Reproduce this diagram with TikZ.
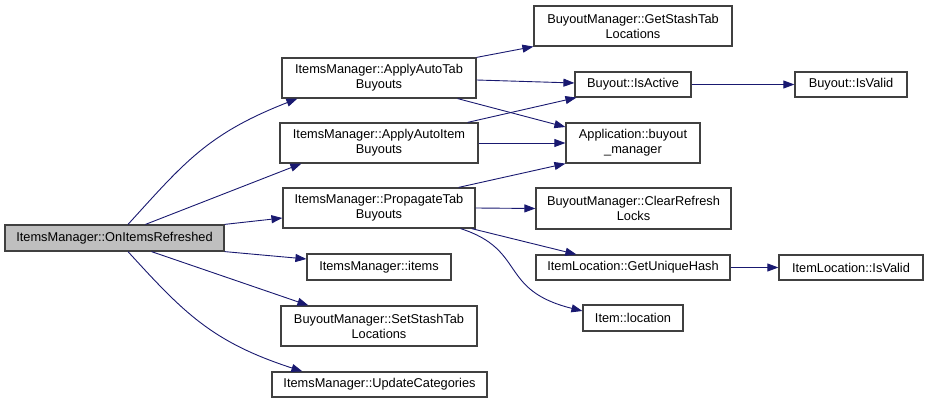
\documentclass[tikz,border=0pt]{standalone}
\usepackage{fontspec}
\setmainfont{Liberation Sans}
\usetikzlibrary{arrows.meta}
\definecolor{edgeblue}{RGB}{25,25,112}
\definecolor{boxgray}{RGB}{64,64,64}
\definecolor{rootgray}{RGB}{191,191,191}
\begin{document}
\begin{tikzpicture}[x=1pt,y=-1pt,
  box/.style={draw=boxgray,line width=1.2pt,fill=white,inner sep=0pt,align=center,font=\fontsize{12.8}{15}\selectfont},
  call/.style={edgeblue,line width=0.9pt,-{Triangle[length=11pt,width=8pt]}}]
  \useasboundingbox (0,0) rectangle (928,403);
  \node[box,fill=rootgray,minimum width=219pt,minimum height=26pt] (root) at (114.5,238) {ItemsManager::OnItemsRefreshed};
  \node[box,minimum width=194pt,minimum height=40pt] (autotab) at (379,78) {ItemsManager::ApplyAutoTab\\Buyouts};
  \node[box,minimum width=198pt,minimum height=40pt] (autoitem) at (379,143) {ItemsManager::ApplyAutoItem\\Buyouts};
  \node[box,minimum width=192pt,minimum height=40pt] (propagate) at (379,208) {ItemsManager::PropagateTab\\Buyouts};
  \node[box,minimum width=144pt,minimum height=26pt] (items) at (379,267) {ItemsManager::items};
  \node[box,minimum width=196pt,minimum height=40pt] (setstash) at (379,326) {BuyoutManager::SetStashTab\\Locations};
  \node[box,minimum width=215pt,minimum height=25pt] (update) at (379.5,384.5) {ItemsManager::UpdateCategories};
  \node[box,minimum width=198pt,minimum height=40pt] (getstash) at (633,26) {BuyoutManager::GetStashTab\\Locations};
  \node[box,minimum width=116pt,minimum height=25pt] (isactive) at (633,84.5) {Buyout::IsActive};
  \node[box,minimum width=112pt,minimum height=25pt] (isvalid) at (851,84.5) {Buyout::IsValid};
  \node[box,minimum width=134pt,minimum height=40pt] (bmgr) at (633,143) {Application::buyout\\\_manager};
  \node[box,minimum width=195pt,minimum height=41pt] (clear) at (633.5,208.5) {BuyoutManager::ClearRefresh\\Locks};
  \node[box,minimum width=194pt,minimum height=25pt] (hash) at (633,267.5) {ItemLocation::GetUniqueHash};
  \node[box,minimum width=144pt,minimum height=25pt] (ilvalid) at (851,267.5) {ItemLocation::IsValid};
  \node[box,minimum width=100pt,minimum height=26pt] (location) at (633,318) {Item::location};
  \draw[call] ([xshift=13.5pt]root.north) .. controls (184,163) and (207,134) .. ([xshift=16pt]autotab.south west);
  \draw[call] ([xshift=31pt]root.north) -- ([xshift=22pt]autoitem.south west);
  \draw[call] (root.north east) -- ([yshift=-10pt]propagate.west);
  \draw[call] (root.south east) -- ([yshift=8pt]items.west);
  \draw[call] ([xshift=37pt]root.south) -- ([xshift=28pt]setstash.north west);
  \draw[call] ([xshift=13.5pt]root.south) .. controls (184,313) and (212,342) .. ([xshift=31pt]update.north west);
  \draw[call] (autotab.north east) -- (getstash.south west);
  \draw[call] ([yshift=-2pt]autotab.east) -- ([yshift=1.5pt]isactive.west);
  \draw[call] ([xshift=-19pt]autotab.south east) -- ([yshift=16pt]bmgr.west);
  \draw[call] ([xshift=-11pt]autoitem.north east) -- ([xshift=2pt]isactive.south west);
  \draw[call] (autoitem.east) -- (bmgr.west);
  \draw[call] ([xshift=-17pt]propagate.north east) -- (bmgr.south west);
  \draw[call] (propagate.east) -- (clear.west);
  \draw[call] ([xshift=-4pt]propagate.south east) -- ([xshift=41pt]hash.north west);
  \draw[call] ([xshift=-15pt]propagate.south east) .. controls (527,250) and (498,290) .. ([yshift=7pt]location.west);
  \draw[call] (isactive.east) -- (isvalid.west);
  \draw[call] (hash.east) -- (ilvalid.west);
\end{tikzpicture}
\end{document}
